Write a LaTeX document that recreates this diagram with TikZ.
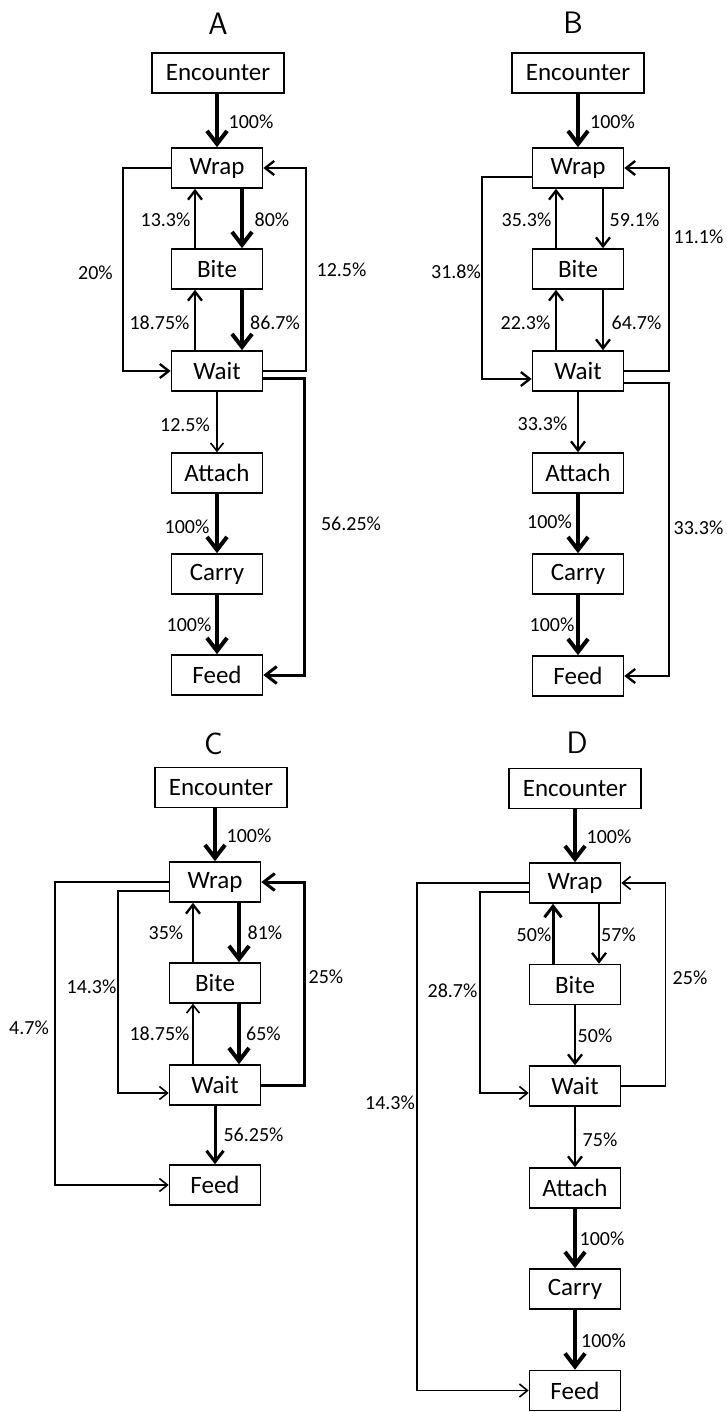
\documentclass[tikz,border=0pt]{standalone}
\usepackage{fontspec}
\setmainfont{Carlito}
\usetikzlibrary{arrows.meta}
\tikzset{box/.style={draw,line width=1.6pt,minimum width=91pt,minimum height=40pt,inner sep=0pt,
                     font=\fontsize{25}{28}\selectfont},
         encbox/.style={box,minimum width=132pt},
         pct/.style={inner sep=0pt,font=\fontsize{20}{22}\selectfont},
         panel/.style={inner sep=0pt,font=\sffamily\fontsize{31}{34}\selectfont},
         thinflow/.style={line width=1.6pt,-{Straight Barb[length=8pt,width=13pt]}},
         midflow/.style={line width=2.3pt,-{Straight Barb[length=9pt,width=14pt]}},
         heavyflow/.style={line width=3pt,-{Straight Barb[length=11pt,width=17pt]}},
         thickflow/.style={line width=4pt,-{Straight Barb[length=13pt,width=20pt]}}}

\begin{document}
\begin{tikzpicture}[x=1pt,y=-1pt]
    \useasboundingbox[fill=white] (0,0) rectangle (727,1412);

    \node[panel] (titleA) at (218,24) {A};
    \node[encbox] (encA) at (218,73) {Encounter};
    \node[box] (wrapA) at (217,168) {Wrap};
    \node[box] (biteA) at (217,269) {Bite};
    \node[box] (waitA) at (217,371) {Wait};
    \node[box] (attachA) at (217,473) {Attach};
    \node[box] (carryA) at (217,574) {Carry};
    \node[box] (feedA) at (217,675) {Feed};
    \draw[thickflow] (encA.south -| wrapA.north) -- (wrapA.north);
    \draw[thickflow] ([xshift=25pt]wrapA.south) -- ([xshift=25pt]biteA.north);
    \draw[midflow] ([xshift=-22pt]biteA.north) -- ([xshift=-22pt]wrapA.south);
    \draw[thickflow] ([xshift=25pt]biteA.south) -- ([xshift=25pt]waitA.north);
    \draw[midflow] ([xshift=-22pt]waitA.north) -- ([xshift=-22pt]biteA.south);
    \draw[midflow] (wrapA.west) -- ++(-48,0) |- (waitA.west);
    \draw[midflow] (waitA.east) -- ++(43,0) |- (wrapA.east);
    \draw[heavyflow] ([yshift=-7pt]waitA.east) -- ++(41,0) |- (feedA.east);
    \draw[thinflow] (waitA.south) -- (attachA.north);
    \draw[thickflow] (attachA.south) -- (carryA.north);
    \draw[thickflow] (carryA.south) -- (feedA.north);
    \node[pct] (pA1) at (251,122) {100\%};
    \node[pct] (pA2) at (272,220) {80\%};
    \node[pct] (pA3) at (165.5,220) {13.3\%};
    \node[pct] (pA4) at (275,323) {86.7\%};
    \node[pct] (pA5) at (159.5,323) {18.75\%};
    \node[pct] (pA6) at (95.5,273) {20\%};
    \node[pct] (pA7) at (341.5,270) {12.5\%};
    \node[pct] (pA8) at (185,425) {12.5\%};
    \node[pct] (pA9) at (351,524) {56.25\%};
    \node[pct] (pA10) at (187,527) {100\%};
    \node[pct] (pA11) at (189,625) {100\%};

    \node[panel] (titleB) at (573,23) {B};
    \node[encbox] (encB) at (578,73) {Encounter};
    \node[box] (wrapB) at (578,168) {Wrap};
    \node[box] (biteB) at (578,269) {Bite};
    \node[box] (waitB) at (578,371) {Wait};
    \node[box] (attachB) at (578,473) {Attach};
    \node[box] (carryB) at (578,574) {Carry};
    \node[box] (feedB) at (578,676) {Feed};
    \draw[thickflow] (encB.south -| wrapB.north) -- (wrapB.north);
    \draw[midflow] ([xshift=25pt]wrapB.south) -- ([xshift=25pt]biteB.north);
    \draw[midflow] ([xshift=-22pt]biteB.north) -- ([xshift=-22pt]wrapB.south);
    \draw[midflow] ([xshift=25pt]biteB.south) -- ([xshift=25pt]waitB.north);
    \draw[midflow] ([xshift=-22pt]waitB.north) -- ([xshift=-22pt]biteB.south);
    \draw[midflow] ([yshift=-9pt]wrapB.west) -- ++(-49.5,0) |- ([yshift=-8pt]waitB.west);
    \draw[midflow] (waitB.east) -- ++(44.5,0) |- (wrapB.east);
    \draw[midflow] ([yshift=-12pt]waitB.east) -- ++(45,0) |- (feedB.east);
    \draw[midflow] (waitB.south) -- (attachB.north);
    \draw[thickflow] (attachB.south) -- (carryB.north);
    \draw[thickflow] (carryB.south) -- (feedB.north);
    \node[pct] (pB1) at (612.5,122) {100\%};
    \node[pct] (pB2) at (634.5,220) {59.1\%};
    \node[pct] (pB3) at (526.5,220) {35.3\%};
    \node[pct] (pB4) at (636.5,323) {64.7\%};
    \node[pct] (pB5) at (525.5,323) {22.3\%};
    \node[pct] (pB6) at (456,272) {31.8\%};
    \node[pct] (pB7) at (698.5,237) {11.1\%};
    \node[pct] (pB8) at (542.5,424) {33.3\%};
    \node[pct] (pB9) at (698.5,528) {33.3\%};
    \node[pct] (pB10) at (549.5,522) {100\%};
    \node[pct] (pB11) at (552,625) {100\%};

    \node[panel] (titleC) at (213.5,744) {C};
    \node[encbox] (encC) at (221,787.5) {Encounter};
    \node[box] (wrapC) at (215,882) {Wrap};
    \node[box] (biteC) at (215,983) {Bite};
    \node[box] (waitC) at (215,1085) {Wait};
    \node[box] (feedC) at (215,1185) {Feed};
    \draw[thickflow] (encC.south -| wrapC.north) -- (wrapC.north);
    \draw[thickflow] ([xshift=24pt]wrapC.south) -- ([xshift=24pt]biteC.north);
    \draw[midflow] ([xshift=-22pt]biteC.north) -- ([xshift=-22pt]wrapC.south);
    \draw[thickflow] ([xshift=24pt]biteC.south) -- ([xshift=24pt]waitC.north);
    \draw[thinflow] ([xshift=-22pt]waitC.north) -- ([xshift=-22pt]biteC.south);
    \draw[thinflow] (wrapC.west) -- ++(-113.5,0) |- (feedC.west);
    \draw[thinflow] ([yshift=-9pt]wrapC.west) -- ++(-50.5,0) |- ([yshift=-8pt]waitC.west);
    \draw[heavyflow] (waitC.east) -- ++(43.5,0) |- (wrapC.east);
    \draw[heavyflow] (waitC.south) -- (feedC.north);
    \node[pct] (pC1) at (249,836) {100\%};
    \node[pct] (pC2) at (265,933) {81\%};
    \node[pct] (pC3) at (166,933) {35\%};
    \node[pct] (pC4) at (263.5,1034) {65\%};
    \node[pct] (pC5) at (159.5,1034) {18.75\%};
    \node[pct] (pC6) at (91.5,987) {14.3\%};
    \node[pct] (pC7) at (29,1028) {4.7\%};
    \node[pct] (pC8) at (326,977) {25\%};
    \node[pct] (pC9) at (253.5,1135) {56.25\%};

    \node[panel] (titleD) at (577,743) {D};
    \node[encbox] (encD) at (575,788.5) {Encounter};
    \node[box] (wrapD) at (575,883) {Wrap};
    \node[box] (biteD) at (575,984.5) {Bite};
    \node[box] (waitD) at (575,1086) {Wait};
    \node[box] (attachD) at (575,1188) {Attach};
    \node[box] (carryD) at (575,1289) {Carry};
    \node[box] (feedD) at (575,1390.5) {Feed};
    \draw[thickflow] (encD.south -| wrapD.north) -- (wrapD.north);
    \draw[midflow] ([xshift=24pt]wrapD.south) -- ([xshift=24pt]biteD.north);
    \draw[heavyflow] ([xshift=-22pt]biteD.north) -- ([xshift=-22pt]wrapD.south);
    \draw[midflow] (biteD.south) -- (waitD.north);
    \draw[thinflow] (wrapD.west) -- ++(-111.5,0) |- (feedD.west);
    \draw[thinflow] ([yshift=-9pt]wrapD.west) -- ++(-49,0) |- ([yshift=-7pt]waitD.west);
    \draw[thinflow] (waitD.east) -- ++(44,0) |- (wrapD.east);
    \draw[midflow] (waitD.south) -- (attachD.north);
    \draw[thickflow] (attachD.south) -- (carryD.north);
    \draw[thickflow] (carryD.south) -- (feedD.north);
    \node[pct] (pD1) at (609,837) {100\%};
    \node[pct] (pD2) at (618.5,935) {57\%};
    \node[pct] (pD3) at (534,935) {50\%};
    \node[pct] (pD4) at (595,1036) {50\%};
    \node[pct] (pD5) at (452.5,991) {28.7\%};
    \node[pct] (pD6) at (390,1103) {14.3\%};
    \node[pct] (pD7) at (690,978) {25\%};
    \node[pct] (pD8) at (600,1140) {75\%};
    \node[pct] (pD9) at (602,1239) {100\%};
    \node[pct] (pD10) at (603.5,1341) {100\%};
\end{tikzpicture}
\end{document}
